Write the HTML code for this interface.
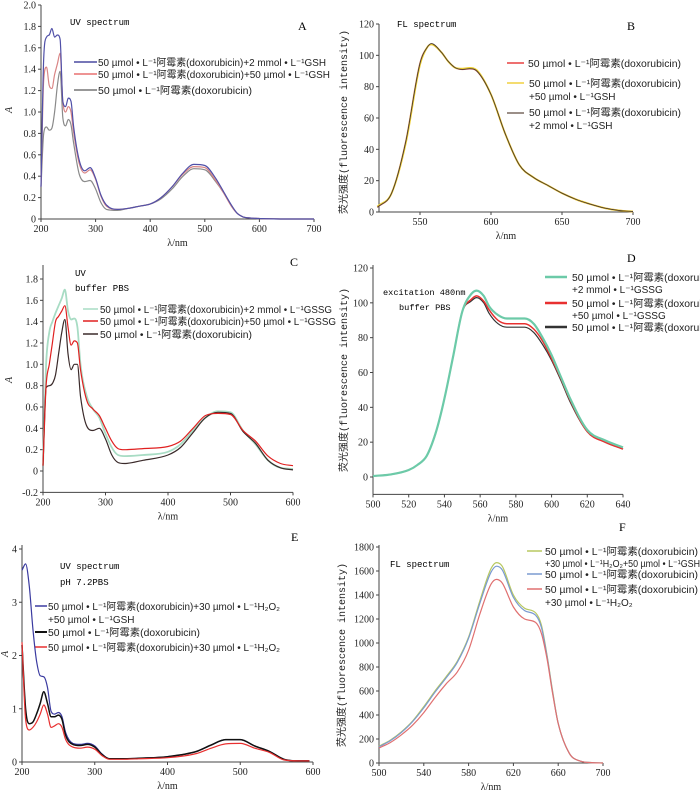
<!DOCTYPE html>
<html><head><meta charset="utf-8">
<style>
html,body{margin:0;padding:0;background:#fff;}
svg{display:block;font-family:"Liberation Serif","Noto Serif CJK SC",serif;}
.mono{font-family:"Liberation Mono","Noto Sans CJK SC",monospace;}
.leg{font-family:"Liberation Sans","Noto Sans CJK SC",sans-serif;font-size:10px;fill:#222;}
</style></head>
<body>
<svg id="fig" width="700" height="793" viewBox="0 0 700 793" xmlns="http://www.w3.org/2000/svg">
<g id="static">
  <text class="mono" x="70" y="25" font-size="9">UV spectrum</text>
  <text x="298" y="30" font-size="12">A</text>
  <text class="mono" x="397" y="27" font-size="9">FL spectrum</text>
  <text x="627" y="30" font-size="12">B</text>
  <text class="mono" x="75" y="276" font-size="9">UV</text>
  <text class="mono" x="75" y="291" font-size="9">buffer PBS</text>
  <text x="290" y="266" font-size="12">C</text>
  <text class="mono" x="383" y="295" font-size="8.6">excitation 480nm</text>
  <text class="mono" x="399" y="310" font-size="8.6">buffer PBS</text>
  <text x="627" y="262" font-size="12">D</text>
  <text class="mono" x="60" y="569" font-size="9">UV spectrum</text>
  <text class="mono" x="60" y="585" font-size="9">pH 7.2PBS</text>
  <text x="291" y="541" font-size="12">E</text>
  <text class="mono" x="390" y="567" font-size="9">FL spectrum</text>
  <text x="619" y="531" font-size="12">F</text>

  <g>
    <line x1="74" y1="62" x2="97" y2="62" stroke="#4a4aa0" stroke-width="1.5"/>
    <text class="leg" x="98" y="66" textLength="228" lengthAdjust="spacingAndGlyphs">50 µmol • L⁻¹阿霉素(doxorubicin)+2 mmol • L⁻¹GSH</text>
    <line x1="74" y1="74" x2="97" y2="74" stroke="#e87070" stroke-width="1.5"/>
    <text class="leg" x="98" y="78" textLength="232" lengthAdjust="spacingAndGlyphs">50 µmol • L⁻¹阿霉素(doxorubicin)+50 µmol • L⁻¹GSH</text>
    <line x1="74" y1="90" x2="97" y2="90" stroke="#777" stroke-width="1.5"/>
    <text class="leg" x="98" y="94" textLength="154" lengthAdjust="spacingAndGlyphs">50 µmol • L⁻¹阿霉素(doxorubicin)</text>
  </g>
  <g>
    <line x1="507" y1="63" x2="524" y2="63" stroke="#ee7070" stroke-width="2"/>
    <text class="leg" x="528" y="67" textLength="153" lengthAdjust="spacingAndGlyphs">50 µmol • L⁻¹阿霉素(doxorubicin)</text>
    <line x1="507" y1="83" x2="524" y2="83" stroke="#f0d040" stroke-width="1.5"/>
    <text class="leg" x="529" y="87" textLength="152" lengthAdjust="spacingAndGlyphs">50 µmol • L⁻¹阿霉素(doxorubicin)</text>
    <text class="leg" x="529" y="100">+50 µmol • L⁻¹GSH</text>
    <line x1="507" y1="113" x2="524" y2="113" stroke="#7a6a60" stroke-width="1.5"/>
    <text class="leg" x="529" y="116" textLength="152" lengthAdjust="spacingAndGlyphs">50 µmol • L⁻¹阿霉素(doxorubicin)</text>
    <text class="leg" x="529" y="129">+2 mmol • L⁻¹GSH</text>
  </g>
  <g>
    <line x1="83" y1="309" x2="98" y2="309" stroke="#a8dcc4" stroke-width="1.5"/>
    <text class="leg" x="100" y="313" textLength="232" lengthAdjust="spacingAndGlyphs">50 µmol • L⁻¹阿霉素(doxorubicin)+2 mmol • L⁻¹GSSG</text>
    <line x1="83" y1="321" x2="98" y2="321" stroke="#e02020" stroke-width="1.5"/>
    <text class="leg" x="100" y="325" textLength="236" lengthAdjust="spacingAndGlyphs">50 µmol • L⁻¹阿霉素(doxorubicin)+50 µmol • L⁻¹GSSG</text>
    <line x1="83" y1="334" x2="98" y2="334" stroke="#3a2a2a" stroke-width="1.5"/>
    <text class="leg" x="100" y="338" textLength="152" lengthAdjust="spacingAndGlyphs">50 µmol • L⁻¹阿霉素(doxorubicin)</text>
  </g>
  <g>
    <line x1="545" y1="277" x2="567" y2="277" stroke="#6ccaa8" stroke-width="2.5"/>
    <text class="leg" x="572" y="281" textLength="152" lengthAdjust="spacingAndGlyphs">50 µmol • L⁻¹阿霉素(doxorubicin)</text>
    <text class="leg" x="572" y="293">+2 mmol • L⁻¹GSSG</text>
    <line x1="545" y1="303" x2="567" y2="303" stroke="#e83030" stroke-width="2.5"/>
    <text class="leg" x="572" y="307" textLength="152" lengthAdjust="spacingAndGlyphs">50 µmol • L⁻¹阿霉素(doxorubicin)</text>
    <text class="leg" x="572" y="319">+50 µmol • L⁻¹GSSG</text>
    <line x1="545" y1="327" x2="567" y2="327" stroke="#333" stroke-width="2.5"/>
    <text class="leg" x="572" y="331" textLength="152" lengthAdjust="spacingAndGlyphs">50 µmol • L⁻¹阿霉素(doxorubicin)</text>
  </g>
  <g>
    <line x1="35" y1="606" x2="47" y2="606" stroke="#3a3aa0" stroke-width="1.5"/>
    <text class="leg" x="48" y="610" textLength="232" lengthAdjust="spacingAndGlyphs">50 µmol • L⁻¹阿霉素(doxorubicin)+30 µmol • L⁻¹H₂O₂</text>
    <text class="leg" x="48" y="623">+50 µmol • L⁻¹GSH</text>
    <line x1="35" y1="632" x2="47" y2="632" stroke="#111" stroke-width="2"/>
    <text class="leg" x="48" y="636" textLength="152" lengthAdjust="spacingAndGlyphs">50 µmol • L⁻¹阿霉素(doxorubicin)</text>
    <line x1="35" y1="647" x2="47" y2="647" stroke="#e83030" stroke-width="1.5"/>
    <text class="leg" x="48" y="651" textLength="232" lengthAdjust="spacingAndGlyphs">50 µmol • L⁻¹阿霉素(doxorubicin)+30 µmol • L⁻¹H₂O₂</text>
  </g>
  <g>
    <line x1="527" y1="551" x2="542" y2="551" stroke="#b8c860" stroke-width="1.5"/>
    <text class="leg" x="545" y="555" textLength="153" lengthAdjust="spacingAndGlyphs">50 µmol • L⁻¹阿霉素(doxorubicin)</text>
    <text class="leg" x="545" y="567" textLength="155" lengthAdjust="spacingAndGlyphs">+30 µmol • L⁻¹H₂O₂+50 µmol • L⁻¹GSH</text>
    <line x1="527" y1="574" x2="542" y2="574" stroke="#7a9ad0" stroke-width="1.5"/>
    <text class="leg" x="545" y="578" textLength="153" lengthAdjust="spacingAndGlyphs">50 µmol • L⁻¹阿霉素(doxorubicin)</text>
    <line x1="527" y1="589" x2="542" y2="589" stroke="#e07070" stroke-width="1.5"/>
    <text class="leg" x="545" y="593" textLength="153" lengthAdjust="spacingAndGlyphs">50 µmol • L⁻¹阿霉素(doxorubicin)</text>
    <text class="leg" x="545" y="606">+30 µmol • L⁻¹H₂O₂</text>
  </g>
</g>
</svg>
<script>
// ---- Panel A data (UV, GSH) ----
const wlA = [200,205,210,215,220,225,230,235,240,245,250,255,260,270,280,290,300,310,320,340,360,380,400,420,440,460,480,500,520,535,550,560,570,580,600,650,700];
const a2mM = [0.3,1.5,1.7,1.72,1.78,1.7,1.72,1.68,1.1,1.05,1.13,1.1,0.85,0.55,0.45,0.48,0.38,0.22,0.13,0.09,0.1,0.12,0.14,0.2,0.3,0.43,0.51,0.5,0.38,0.25,0.12,0.05,0.02,0.01,0.005,0,0];
const a50uM = [0.3,1.3,1.42,1.25,1.22,1.35,1.45,1.55,1.1,1.0,1.05,1.0,0.8,0.52,0.43,0.46,0.37,0.21,0.12,0.09,0.1,0.12,0.14,0.2,0.3,0.42,0.49,0.48,0.36,0.24,0.11,0.05,0.02,0.01,0.005,0,0];
const aDox = [0.3,0.8,0.86,0.83,0.85,1.0,1.25,1.38,0.95,0.87,0.93,0.88,0.7,0.42,0.35,0.36,0.28,0.15,0.09,0.08,0.1,0.12,0.14,0.19,0.28,0.4,0.47,0.46,0.35,0.24,0.11,0.05,0.02,0.01,0.005,0,0];
// ---- Panel B data (FL, GSH) ----
const wlB = [520,530,540,550,555,558,565,570,575,580,585,590,600,610,620,630,640,650,660,670,680,690,700];
const bDox = [3,12,45,95,105,107,102,96,92,91,91.5,90,75,50,30,22,17,12,8,5,2.5,1,0.3];
const b50uM = [3.5,12,44,94,105,107,102,96,92,91.5,92,90.5,75,50,30,22,17,12,8,5,2.5,1,0.3];
const b2mM = [3,12,45,95,105,107.5,102,96,92,91,91.5,90,75,50,30,22,17,12,8,5,2.5,1,0.3];
// ---- Panel C data (UV, GSSG) ----
const wlC = [200,205,210,215,220,225,230,235,240,245,250,255,260,270,280,290,300,310,320,330,360,400,420,440,460,480,500,520,540,560,580,600];
const c2mM = [0.05,1.0,1.3,1.4,1.48,1.55,1.62,1.7,1.5,1.42,1.43,1.35,1.0,0.7,0.58,0.5,0.35,0.22,0.15,0.14,0.15,0.18,0.25,0.38,0.5,0.56,0.55,0.38,0.25,0.1,0.03,0.02];
const c50uM = [0.05,0.8,1.0,1.2,1.4,1.45,1.5,1.55,1.35,1.18,1.22,1.2,0.95,0.66,0.58,0.52,0.4,0.28,0.21,0.2,0.21,0.23,0.28,0.4,0.52,0.54,0.53,0.38,0.28,0.14,0.07,0.05];
const cDox = [0.05,0.78,0.8,0.82,0.9,1.1,1.3,1.42,1.1,0.95,1.0,1.0,0.7,0.42,0.38,0.4,0.3,0.15,0.08,0.07,0.1,0.15,0.22,0.36,0.5,0.55,0.54,0.37,0.26,0.1,0.03,0.01];
// ---- Panel D data (FL, GSSG) ----
const wlD = [500,510,520,525,530,535,540,545,550,555,558,562,565,570,575,580,585,590,595,600,605,610,620,630,640];
const d2mM = [0.5,1.5,4,7,12,25,45,70,95,105,107,104,98,93,91,91,91,88,80,70,58,46,27,21,17];
const d50uM = [0.5,1.5,4,7,12,25,45,70,95,102,104,101,96,90,88,88,88,85,78,68,57,45,26,20,16];
const dDox = [0.5,1.5,4,7,12,25,45,70,95,101,103,100,94,88,86,86,86,83,76,67,56,44,26,20,16];
// ---- Panel E data (UV, H2O2) ----
const wlE = [200,205,210,215,220,225,230,235,240,245,250,255,260,270,280,290,300,310,320,340,360,400,440,460,480,500,520,540,560,580,595];
const eH2O2GSH = [3.6,3.72,3.3,2.5,1.9,1.62,1.6,1.4,0.95,0.9,0.93,0.85,0.55,0.35,0.33,0.35,0.3,0.15,0.06,0.06,0.07,0.1,0.2,0.32,0.42,0.42,0.3,0.2,0.05,0.02,0.02];
const eDox = [2.2,1.0,0.72,0.75,0.9,1.1,1.32,1.1,0.85,0.85,0.88,0.8,0.5,0.33,0.31,0.33,0.28,0.14,0.06,0.06,0.07,0.1,0.2,0.32,0.42,0.42,0.3,0.2,0.05,0.02,0.02];
const eH2O2 = [2.25,0.8,0.6,0.65,0.75,0.9,1.07,0.9,0.65,0.68,0.72,0.65,0.42,0.28,0.26,0.28,0.24,0.12,0.05,0.05,0.06,0.08,0.16,0.26,0.34,0.35,0.26,0.18,0.04,0.02,0.02];
// ---- Panel F data (FL, H2O2) ----
const wlF = [500,510,520,530,540,550,560,570,580,590,600,605,610,620,630,640,645,650,655,660,670,680,690,700];
const fH2O2GSH = [140,190,260,350,470,600,720,850,1050,1350,1620,1670,1640,1400,1290,1250,1150,900,600,330,80,15,3,0];
const fDox = [135,185,255,345,460,590,710,840,1040,1330,1590,1640,1610,1380,1270,1230,1130,890,590,330,80,15,3,0];
const fH2O2 = [125,170,235,315,420,545,660,760,940,1240,1490,1530,1500,1300,1200,1170,1080,870,580,330,80,15,3,0];
// ---- tick values ----
const ticksAx = [200,300,400,500,600,700];
const ticksAy = [0,0.2,0.4,0.6,0.8,1.0,1.2,1.4,1.6,1.8,2.0];
const ticksBx = [550,600,650,700];
const ticksBy = [0,20,40,60,80,100,120];
const ticksCx = [200,300,400,500,600];
const ticksCy = [-0.2,0,0.2,0.4,0.6,0.8,1.0,1.2,1.4,1.6,1.8];
const ticksDx = [500,520,540,560,580,600,620,640];
const ticksDy = [0,20,40,60,80,100,120];
const ticksEx = [200,300,400,500,600];
const ticksEy = [0,1,2,3,4];
const ticksFx = [500,540,580,620,660,700];
const ticksFy = [0,200,400,600,800,1000,1200,1400,1600,1800];

const NS = 'http://www.w3.org/2000/svg';
const svg = document.getElementById('fig');
function mk(tag, attrs, parent){
  const e = document.createElementNS(NS, tag);
  for (const k in attrs) e.setAttribute(k, attrs[k]);
  (parent||svg).appendChild(e);
  return e;
}
// monotone cubic (Fritsch-Carlson) — no overshoot
function smooth(pts){
  const n = pts.length, d = [], m = [];
  for (let i=0;i<n-1;i++) d.push((pts[i+1][1]-pts[i][1])/(pts[i+1][0]-pts[i][0]));
  m[0]=d[0]; m[n-1]=d[n-2];
  for (let i=1;i<n-1;i++) m[i] = (d[i-1]*d[i] <= 0) ? 0 : (d[i-1]+d[i])/2;
  for (let i=0;i<n-1;i++){
    if (d[i]===0){ m[i]=0; m[i+1]=0; continue; }
    const a=m[i]/d[i], b=m[i+1]/d[i], s=a*a+b*b;
    if (s>9){ const t=3/Math.sqrt(s); m[i]=t*a*d[i]; m[i+1]=t*b*d[i]; }
  }
  let p = 'M' + pts[0][0].toFixed(1) + ',' + pts[0][1].toFixed(1);
  for (let i=0;i<n-1;i++){
    const h = (pts[i+1][0]-pts[i][0])/3;
    p += 'C'+(pts[i][0]+h).toFixed(1)+','+(pts[i][1]+m[i]*h).toFixed(1)+' '+(pts[i+1][0]-h).toFixed(1)+','+(pts[i+1][1]-m[i+1]*h).toFixed(1)+' '+pts[i+1][0].toFixed(1)+','+pts[i+1][1].toFixed(1);
  }
  return p;
}
function panel(id, cfg){
  const g = mk('g', {});
  
  
  const sx = v => cfg.px0 + (v - cfg.x0) * (cfg.px1 - cfg.px0) / (cfg.x1 - cfg.x0);
  const sy = v => cfg.py0 + (v - cfg.y0) * (cfg.py1 - cfg.py0) / (cfg.y1 - cfg.y0);
  const axX = cfg.axisX, axBottom = sy(cfg.yMin), axTop = cfg.axTop;
  const xa = mk('line', {x1:axX, y1:axBottom, x2:sx(cfg.x1), y2:axBottom, stroke:'#444', 'stroke-width':1}, g);
  
  
  const ya = mk('line', {x1:axX, y1:axTop, x2:axX, y2:axBottom, stroke:'#444', 'stroke-width':1}, g);
  
  
  cfg.xt.forEach(v => {
    mk('line', {x1:sx(v), y1:axBottom, x2:sx(v), y2:axBottom+3, stroke:'#444'}, g);
    const t = mk('text', {x:sx(v), y:axBottom+13, 'font-size':10, 'text-anchor':'middle', fill:'#222'}, g);
    
    
    t.textContent = v;
  });
  cfg.yt.forEach(v => {
    mk('line', {x1:axX-3, y1:sy(v), x2:axX, y2:sy(v), stroke:'#444'}, g);
    const t = mk('text', {x:axX-5, y:sy(v)+3.5, 'font-size':10, 'text-anchor':'end', fill:'#222'}, g);
    
    
    t.textContent = cfg.fmt ? cfg.fmt(v) : v;
  });
  const xt = mk('text', {x:(axX+sx(cfg.x1))/2, y:axBottom+27, 'font-size':10, 'text-anchor':'middle', fill:'#222'}, g);
  
  
  xt.textContent = 'λ/nm';
  const yt = mk('text', {x:0, y:0, 'font-size':10, 'text-anchor':'middle', fill:'#222', 'font-style':cfg.fl?'normal':'italic',
    transform:'translate('+cfg.ytx+','+cfg.yty+') rotate(-90)'}, g);
  
  
  if (cfg.fl) yt.setAttribute('font-family', '"Liberation Mono","Noto Sans CJK SC",monospace');
  yt.textContent = cfg.fl ? '荧光强度(fluorescence intensity)' : 'A';
  cfg.series.forEach(s => {
    const pts = cfg.wl.map((w,i) => [sx(w), sy(s.v[i])]);
    const p = mk('path', {d:smooth(pts), fill:'none', stroke:s.c, 'stroke-width':s.w||1.2, 'stroke-linejoin':'round'}, g);
    
    
  });
}
const f1 = v => v.toFixed(1);
panel('panel-a', {px0:41,px1:314,x0:200,x1:700,py0:219,py1:5,y0:0,y1:2,yMin:0,axisX:41,axTop:5,
  xt:ticksAx, yt:ticksAy, fmt:v=>v===0?'0':f1(v), ytx:12, yty:110, wl:wlA,
  series:[{n:'dox-line',v:aDox,c:'#8a8a8a'},{n:'gsh-50um-line',v:a50uM,c:'#d98585'},{n:'gsh-2mm-line',v:a2mM,c:'#5050a8'}]});
panel('panel-b', {px0:377.4,px1:633,x0:520,x1:700,py0:212,py1:24,y0:0,y1:120,yMin:0,axisX:379,axTop:24,
  xt:ticksBx, yt:ticksBy, ytx:347, yty:122, fl:true, wl:wlB,
  series:[{n:'dox-line',v:bDox,c:'#e87070',w:1.5},{n:'gsh-50um-line',v:b50uM,c:'#f0d030',w:1.8},{n:'gsh-2mm-line',v:b2mM,c:'#4a3a30',w:0.9}]});
panel('panel-c', {px0:43,px1:293,x0:200,x1:600,py0:471,py1:279,y0:0,y1:1.8,yMin:-0.2,axisX:43,axTop:265,
  xt:ticksCx, yt:ticksCy, fmt:v=>Math.abs(v)<1e-9?'0':f1(v), ytx:12, yty:380, wl:wlC,
  series:[{n:'gssg-2mm-line',v:c2mM,c:'#a8dcc4',w:1.8},{n:'dox-line',v:cDox,c:'#3a2a2a'},{n:'gssg-50um-line',v:c50uM,c:'#e02020'}]});
panel('panel-d', {px0:373,px1:623,x0:500,x1:640,py0:477,py1:268,y0:0,y1:120,yMin:-10,axisX:373,axTop:265,
  xt:ticksDx, yt:ticksDy, ytx:347, yty:380, fl:true, wl:wlD,
  series:[{n:'dox-line',v:dDox,c:'#333',w:1.2},{n:'gssg-50um-line',v:d50uM,c:'#e83030',w:1.5},{n:'gssg-2mm-line',v:d2mM,c:'#6ccaa8',w:2.2}]});
panel('panel-e', {px0:22,px1:313,x0:200,x1:600,py0:762,py1:549,y0:0,y1:4,yMin:0,axisX:22,axTop:545,
  xt:ticksEx, yt:ticksEy, ytx:8, yty:654, wl:wlE,
  series:[{n:'h2o2-gsh-line',v:eH2O2GSH,c:'#3a3aa0'},{n:'dox-line',v:eDox,c:'#111',w:1.5},{n:'h2o2-line',v:eH2O2,c:'#e83030'}]});
panel('panel-f', {px0:379,px1:603,x0:500,x1:700,py0:763,py1:547,y0:0,y1:1800,yMin:0,axisX:379,axTop:545,
  xt:ticksFx, yt:ticksFy, ytx:345, yty:655, fl:true, wl:wlF,
  series:[{n:'h2o2-gsh-line',v:fH2O2GSH,c:'#b8c860'},{n:'dox-line',v:fDox,c:'#7a9ad0'},{n:'h2o2-line',v:fH2O2,c:'#e07070'}]});
</script>
</body></html>
